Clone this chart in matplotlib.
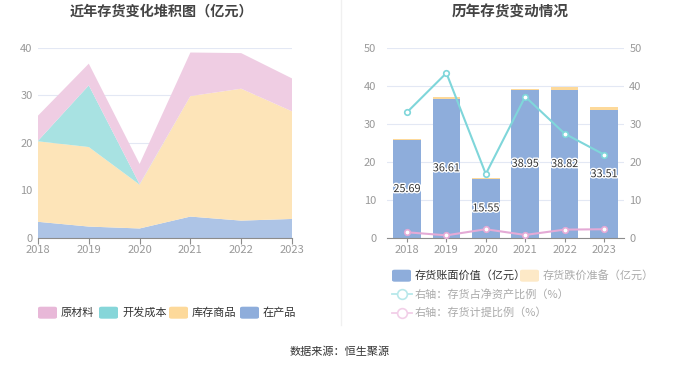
import matplotlib
matplotlib.use("Agg")
import matplotlib.pyplot as plt
import matplotlib.patheffects as pe
from matplotlib.patches import FancyBboxPatch
from matplotlib.lines import Line2D
import numpy as np

plt.rcParams['font.family'] = ['Noto Sans CJK SC', 'DejaVu Sans']

years = ['2018', '2019', '2020', '2021', '2022', '2023']
# left: stacked area (亿元)
wip = [3.4, 2.4, 2.0, 4.5, 3.65, 4.0]          # 在产品
goods = [16.9, 16.7, 9.2, 25.3, 27.7, 22.6]    # 库存商品
dev = [0.1, 12.95, 0.1, 0.0, 0.0, 0.0]         # 开发成本
raw = [5.29, 4.56, 4.25, 9.15, 7.47, 6.91]     # 原材料

# right: bars and lines
book = [25.69, 36.61, 15.55, 38.95, 38.82, 33.51]
provision = [0.36, 0.3, 0.3, 0.2, 0.84, 0.8]
ratio_net = [33.0, 43.3, 16.8, 37.1, 27.4, 21.9]
ratio_prov = [1.5, 0.7, 2.3, 0.8, 2.2, 2.3]

W, H = 680, 367
fig = plt.figure(figsize=(6.8, 3.67), dpi=100)

def fx(px):
    return px / W

def fy(py):
    return 1 - py / H

tick_color = '#999999'
grid_color = '#e3e8f4'

# ---------- left chart ----------
axL = fig.add_axes([fx(38), fy(238), fx(292 - 38), (238 - 47.5) / H])
x = np.arange(len(years))
cols_fill = ['#adc4e6', '#fde4b8', '#a8e2e2', '#efcde3']
axL.stackplot(x, wip, goods, dev, raw, colors=cols_fill, linewidth=0)
axL.set_xlim(0, 5)
axL.set_ylim(0, 40)
axL.set_yticks([0, 10, 20, 30, 40])
axL.set_xticks(x)
axL.set_xticklabels(years)
axL.set_axisbelow(True)
axL.grid(axis='y', color=grid_color, linewidth=0.8)
for s in ['top', 'right', 'left']:
    axL.spines[s].set_visible(False)
axL.spines['bottom'].set_color('#8c8c8c')
axL.tick_params(axis='y', length=0, labelsize=8, labelcolor=tick_color, pad=4)
axL.tick_params(axis='x', length=4, color='#8c8c8c', labelsize=8, labelcolor=tick_color, pad=1)
fig.text(fx(161), fy(12), '近年存货变化堆积图（亿元）', ha='center', va='center',
         fontsize=10.2, fontweight='bold', color='#444444')

# ---------- right chart ----------
axR = fig.add_axes([fx(387.3), fy(238), fx(623.7 - 387.3), (238 - 47.5) / H])
axR2 = axR.twinx()
axR.set_zorder(2)
axR2.set_zorder(1)
axR.patch.set_visible(False)
axR2.patch.set_visible(False)

axR2.set_ylim(0, 50)
axR2.set_yticks([0, 10, 20, 30, 40, 50])
axR2.grid(axis='y', color=grid_color, linewidth=0.8)
for s in ['top', 'right', 'left', 'bottom']:
    axR2.spines[s].set_visible(False)
axR2.tick_params(axis='y', length=0, labelsize=8, labelcolor=tick_color, pad=4)

axR.bar(x, book, width=0.7, color='#8eaddb', zorder=2)
axR.bar(x, provision, width=0.7, bottom=book, color='#fdd99a', zorder=2)
axR.set_xlim(-0.5, 5.5)
axR.set_ylim(0, 50)
axR.set_yticks([0, 10, 20, 30, 40, 50])
axR.set_xticks(x)
axR.set_xticklabels(years)
axR.grid(False)
for s in ['top', 'right', 'left']:
    axR.spines[s].set_visible(False)
axR.spines['bottom'].set_color('#8c8c8c')
axR.tick_params(axis='y', length=0, labelsize=8, labelcolor=tick_color, pad=8)
axR.tick_params(axis='x', length=3, color='#8c8c8c', labelsize=8, labelcolor=tick_color, pad=2)
for xi, v in zip(x, book):
    axR.text(xi, v / 2, f'{v:.2f}', ha='center', va='center', fontsize=7.8, color='#333333',
             zorder=5, path_effects=[pe.withStroke(linewidth=2, foreground='white')])

# right-axis lines (same 0-50 scale as the right axis), drawn above bars
axR.plot(x, ratio_net, color='#7fd6da', linewidth=1.5, marker='o', markersize=4,
         markerfacecolor='white', markeredgecolor='#7fd6da', markeredgewidth=1.2, zorder=4)
axR.plot(x, ratio_prov, color='#e4aad6', linewidth=1.5, marker='o', markersize=4,
         markerfacecolor='white', markeredgecolor='#e4aad6', markeredgewidth=1.2, zorder=4)
fig.text(fx(510), fy(12), '历年存货变动情况', ha='center', va='center',
         fontsize=10.5, fontweight='bold', color='#444444')

# divider
fig.add_artist(Line2D([fx(341), fx(341)], [fy(0), fy(325)], color='#f0f0f0', linewidth=1))

# ---------- legends ----------
def box(x0, yc, color, w=19, h=12):
    fig.add_artist(FancyBboxPatch((fx(x0), fy(yc + h / 2)), fx(w), h / H,
                                  boxstyle='round,pad=0,rounding_size=0.004',
                                  facecolor=color, edgecolor='none', transform=fig.transFigure))

def ltext(x0, yc, s, color='#333333'):
    fig.text(fx(x0), fy(yc), s, ha='left', va='center', fontsize=8, color=color)

left_items = [(38, '#e8b8d8', '原材料'), (99, '#86d6d9', '开发成本'),
              (169, '#fdd99a', '库存商品'), (240, '#8eaddb', '在产品')]
for x0, c, s in left_items:
    box(x0, 312.7, c)
    ltext(x0 + 23, 312.7, s)

box(392, 275.7, '#8eaddb')
ltext(415, 275.7, '存货账面价值（亿元）')
box(520, 275.7, '#fde9c7')
ltext(543, 275.7, '存货跌价准备（亿元）', '#aaaaaa')

def lineicon(x0, yc, color):
    fig.add_artist(Line2D([fx(x0), fx(x0 + 20)], [fy(yc), fy(yc)], color=color, linewidth=1.3))
    fig.add_artist(Line2D([fx(x0 + 10)], [fy(yc)], marker='o', markersize=7, color=color,
                          markerfacecolor='white', markeredgewidth=1.2))

lineicon(392, 294.3, '#b8e8ea')
ltext(415, 294.3, '右轴：存货占净资产比例（%）', '#aaaaaa')
lineicon(392, 312.7, '#f2cfe8')
ltext(415, 312.7, '右轴：存货计提比例（%）', '#aaaaaa')

fig.text(0.5, fy(352), '数据来源：恒生聚源', ha='center', va='center', fontsize=8, color='#333333')

fig.savefig('out.png', dpi=100, facecolor='white')
